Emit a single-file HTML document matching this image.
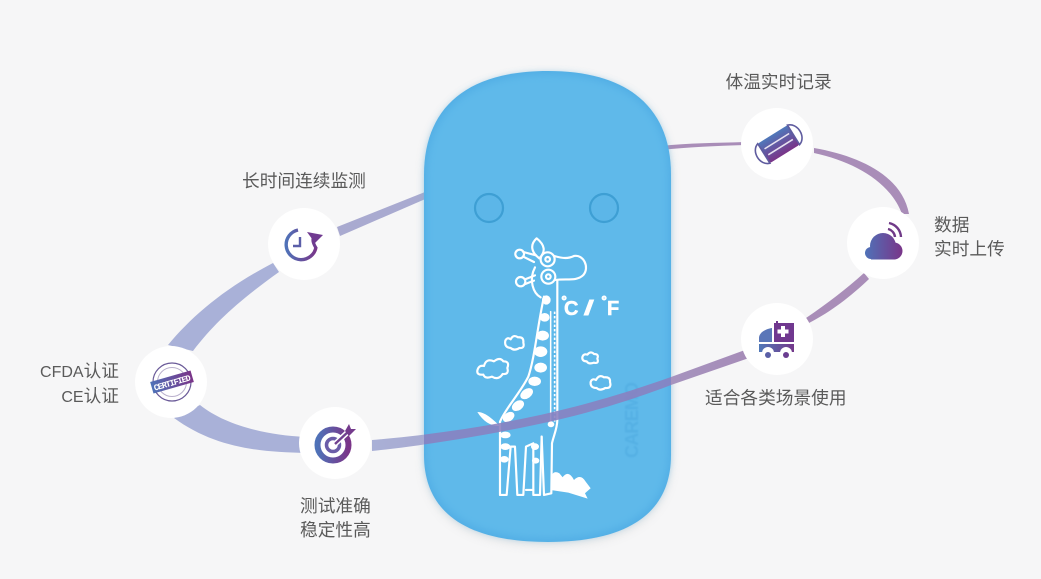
<!DOCTYPE html>
<html lang="zh"><head><meta charset="utf-8"><title>体温贴</title>
<style>
html,body{margin:0;padding:0;background:#f6f6f7}
svg{display:block}
.l{font-family:"Liberation Sans","Noto Sans CJK SC",sans-serif;font-size:17.7px;fill:#5a5a5a}
</style></head><body>
<svg width="1041" height="579" viewBox="0 0 1041 579" xmlns="http://www.w3.org/2000/svg">
<defs>
<linearGradient id="g" x1="0" y1="0" x2="1" y2="0"><stop offset="0" stop-color="#4f72b8"/><stop offset="1" stop-color="#7a3488"/></linearGradient>
<linearGradient id="mg" x1="0" y1="0" x2="0" y2="1"><stop offset="0" stop-color="#4f78ba"/><stop offset="1" stop-color="#7a3488"/></linearGradient>
<linearGradient id="cg" gradientUnits="userSpaceOnUse" x1="865" y1="0" x2="903" y2="0"><stop offset="0" stop-color="#4f72b8"/><stop offset="1" stop-color="#7a3488"/></linearGradient>
<linearGradient id="ag" gradientUnits="userSpaceOnUse" x1="759" y1="0" x2="794" y2="0"><stop offset="0" stop-color="#5078b8"/><stop offset="1" stop-color="#74388a"/></linearGradient>
<linearGradient id="cl" gradientUnits="userSpaceOnUse" x1="286" y1="0" x2="317" y2="0"><stop offset="0" stop-color="#4f72b8"/><stop offset="1" stop-color="#7a3488"/></linearGradient>
<linearGradient id="b" gradientUnits="userSpaceOnUse" x1="370" y1="0" x2="750" y2="0"><stop offset="0" stop-color="#a9b0d6"/><stop offset="1" stop-color="#a68cb8"/></linearGradient>
<filter id="s" x="-10%" y="-10%" width="120%" height="120%"><feGaussianBlur stdDeviation="5"/></filter>
<filter id="s2" x="-10%" y="-10%" width="120%" height="120%"><feGaussianBlur stdDeviation="4"/></filter>
<filter id="s3" x="-20%" y="-20%" width="140%" height="140%"><feGaussianBlur stdDeviation=".7"/></filter>
<clipPath id="out"><rect x="0" y="0" width="424" height="579"/><rect x="671" y="0" width="370" height="579"/></clipPath>
<clipPath id="in"><rect x="424" y="0" width="247" height="579"/></clipPath>
<path id="dev" d="M424 175 C424 110 464 71 548 71 C631 71 671 110 671 175 L671 455 C671 515 625 542 548 542 C470 542 424 515 424 455 Z"/>
<path id="front" d="M372 440 C420 436 490 427 553 412 C600 401 640 388 671 377 L745 350 L749 358 L671 385 C640 397 600 410 553 421 C490 435 420 446 372 451 Z"/>
</defs>
<rect width="1041" height="579" fill="#f6f6f7"/>

<!-- upper bands behind the device -->
<path d="M273 263 C225 288 193 315 168 345 L193 351 C215 322 240 300 279 272 Z" fill="#a9b1d8"/>
<path d="M337 227 L430 190 L430 197 L340 236 Z" fill="#a9aad0"/>
<path d="M660 146 C690 143 715 143 745 142 L745 145 C715 146 690 147 660 150 Z" fill="#a98db8"/>
<path d="M814 148 C860 156 902 176 909 214 L902 214 C890 182 855 162 814 153 Z" fill="#a98db8"/>
<path d="M864 273 C845 290 828 303 806 318 L809 323 C832 311 850 297 869 279 Z" fill="#a98db8"/>

<!-- device -->
<use href="#dev" fill="#999" opacity=".22" filter="url(#s)" transform="translate(0 3)"/>
<use href="#dev" fill="#52aee5"/>
<use href="#dev" fill="#5fb9ea" filter="url(#s2)" transform="translate(547.5 306.5) scale(.98 .985) translate(-547.5 -306.5)"/>
<circle cx="489" cy="208" r="14" fill="#5cb6e8" stroke="#3e9fd4" stroke-width="2.2"/>
<circle cx="604" cy="208" r="14" fill="#5cb6e8" stroke="#3e9fd4" stroke-width="2.2"/>
<text transform="translate(638 458) rotate(-90)" font-family="Liberation Sans,sans-serif" font-weight="bold" font-size="18" fill="#54b0e4" textLength="76" filter="url(#s3)">CAREMO</text>

<!-- giraffe, in 3x crop coordinates -->
<g transform="translate(420 180) scale(.3333)" fill="none" stroke="#fff" stroke-width="6.5" stroke-linejoin="round" stroke-linecap="round">
<path d="M350 175 C375 195 378 215 358 235 C335 218 328 195 350 175 Z"/>
<circle cx="299" cy="222" r="13"/><path d="M310 216 L348 226 M310 230 L342 246"/>
<circle cx="302" cy="305" r="14"/><path d="M315 298 L345 286 M316 312 L342 302"/>
<circle cx="383" cy="238" r="21"/><circle cx="383" cy="238" r="7"/>
<circle cx="385" cy="290" r="21"/><circle cx="385" cy="290" r="7"/>
<path d="M403 228 C430 236 445 236 462 228 C490 222 510 262 490 285 C470 305 440 295 405 300"/>
<path d="M345 262 C325 300 340 340 362 352"/>
<path d="M412 300 L412 720 C412 745 400 770 396 790 L394 940 L372 945 L365 770"/>
<path d="M392 395 L392 725" stroke-width="4.5"/>
<path d="M404 395 L404 725" stroke-width="5" stroke-dasharray="7 6" stroke-linecap="butt"/>
<path d="M372 350 C352 440 345 530 325 590 C300 640 260 680 240 725 L240 945 L260 945 L272 800 L285 800 L292 945 L310 945 L318 800 L340 790 L340 945 L360 945 L365 770"/>
<path d="M318 930 L340 930"/>
<g fill="#fff" stroke="none">
<ellipse cx="379" cy="360" rx="13" ry="14"/><ellipse cx="374" cy="412" rx="15" ry="13"/><ellipse cx="368" cy="467" rx="19" ry="15"/>
<ellipse cx="362" cy="515" rx="20" ry="16"/><ellipse cx="362" cy="563" rx="19" ry="15"/><ellipse cx="344" cy="604" rx="19" ry="14"/>
<ellipse cx="320" cy="641" rx="21" ry="14" transform="rotate(-35 320 641)"/><ellipse cx="294" cy="677" rx="20" ry="14" transform="rotate(-35 294 677)"/><ellipse cx="266" cy="711" rx="19" ry="13" transform="rotate(-35 266 711)"/>
<ellipse cx="256" cy="765" rx="16" ry="10"/><ellipse cx="256" cy="800" rx="15" ry="10"/><ellipse cx="253" cy="838" rx="13" ry="10"/><ellipse cx="345" cy="800" rx="12" ry="10"/><ellipse cx="347" cy="842" rx="11" ry="9"/><ellipse cx="393" cy="733" rx="10" ry="9"/>
<path d="M172 696 C195 696 215 715 240 738 C215 740 190 725 172 696 Z"/>
<path d="M392 895 Q398 868 418 880 L428 892 Q445 868 462 900 Q482 880 497 905 L512 925 L495 940 L503 956 L445 938 L392 930 Z"/>
</g>
<path d="M256 482 Q262 470 272 478 Q280 462 294 472 Q312 470 310 488 Q315 506 298 504 Q284 514 272 504 Q252 502 256 482 Z"/>
<path d="M172 572 Q176 554 192 558 Q198 534 222 544 Q240 530 250 544 Q270 544 262 564 Q268 584 248 582 Q236 602 216 590 Q196 598 190 584 Q170 586 172 572 Z"/>
<path d="M487 532 Q490 520 502 524 Q512 512 522 522 Q538 522 532 536 Q538 552 522 548 Q506 554 500 544 Q486 544 487 532 Z"/>
<path d="M512 606 Q516 594 528 600 Q538 582 552 592 Q572 590 570 606 Q576 626 556 624 Q540 634 530 624 Q510 624 512 606 Z"/>
</g>
<g font-family="Liberation Sans,sans-serif" font-weight="bold" fill="#fff" font-size="20">
<text x="564" y="315" stroke="#fff" stroke-width=".5">C</text><text transform="translate(583 315) scale(2 1)" font-size="21">/</text><text x="607" y="315" stroke="#fff" stroke-width=".5">F</text>
<text x="561.5" y="305" font-size="13" stroke="#fff" stroke-width="1">°</text><text x="601.5" y="305" font-size="13" stroke="#fff" stroke-width="1">°</text>
</g>

<!-- lower band: in front of the device -->
<path d="M174 418 C215 448 260 452 305 453 L305 437 C265 435 225 425 200 405 Z" fill="#a9b1d8"/>
<use href="#front" fill="url(#b)" clip-path="url(#out)"/>
<use href="#front" fill="#8a80bf" opacity=".88" clip-path="url(#in)"/>

<!-- nodes -->
<g fill="#fff">
<circle cx="304" cy="244" r="36"/><circle cx="171" cy="382" r="36"/><circle cx="335" cy="443" r="36"/>
<circle cx="777" cy="144" r="36"/><circle cx="883" cy="243" r="36"/><circle cx="777" cy="339" r="36"/>
</g>

<!-- clock -->
<path d="M298 230 A15 15 0 1 0 316 247" fill="none" stroke="url(#cl)" stroke-width="3.4"/>
<path d="M300 237 V246 H293" fill="none" stroke="#5b5ea8" stroke-width="2.4"/>
<path d="M316 248 C313 243 312 240 314 235" fill="none" stroke="#6f3c90" stroke-width="3.2"/>
<path d="M307 232 L323 235 L315 243 Z" fill="#703a90"/>

<!-- certified -->
<circle cx="172" cy="382" r="19" fill="none" stroke="#6a5a98" stroke-width="1.2"/>
<circle cx="172" cy="382" r="14.5" fill="none" stroke="#b9b0cc" stroke-width="1"/>
<g transform="rotate(-16 172 382)"><rect x="151" y="376" width="42" height="12" fill="url(#g)"/>
<text x="172" y="385.5" text-anchor="middle" font-family="Liberation Mono,monospace" font-weight="bold" font-size="8.5" fill="#fff" textLength="38" lengthAdjust="spacing">CERTIFIED</text></g>

<!-- target -->
<circle cx="333" cy="445" r="15.5" fill="none" stroke="url(#g)" stroke-width="6"/>
<circle cx="333" cy="445" r="6.5" fill="none" stroke="#6b5da8" stroke-width="3.5"/>
<path d="M335 444 L350 430" stroke="#fff" stroke-width="5.5"/>
<path d="M335 444 L350 430" stroke="#70408f" stroke-width="2.4"/>
<path d="M345 431 L349 424 L351 429 L356 429 L349 436 Z" fill="#743a8c"/>

<!-- mask -->
<g transform="rotate(-32 778 144)">
<rect x="761" y="133" width="35" height="23" rx="2" fill="url(#mg)"/>
<path d="M761 133 C751 136 751 153 761 156 Z M796 133 C806 136 806 153 796 156 Z" fill="#fff" stroke="#5f5c9f" stroke-width="1.6"/>
<path d="M764 141 H793 M764 148 H793" stroke="#e7e2f0" stroke-width="1.6"/>
</g>

<!-- cloud -->
<g fill="url(#cg)"><circle cx="871" cy="253" r="6"/><circle cx="883" cy="246" r="13"/><circle cx="894" cy="251" r="8.5"/><rect x="871" y="250" width="24" height="9.5"/></g>
<path d="M889 223 A15 15 0 0 1 901 237 M888 229 A9 9 0 0 1 895 237" fill="none" stroke="#703a88" stroke-width="2.4"/>

<!-- ambulance -->
<rect x="774" y="323" width="20" height="19" fill="#70388f"/>
<rect x="776" y="321" width="2" height="3" fill="#70388f"/>
<path d="M781 326 h4 v3.5 h3.5 v4 h-3.5 v3.5 h-4 v-3.5 h-3.5 v-4 h3.5 Z" fill="#fff"/>
<path d="M772 328 V342 H759 V338 C759 333 765 329 772 328 Z" fill="#5a76b8"/>
<rect x="759" y="344" width="35" height="8" fill="url(#ag)"/>
<circle cx="768" cy="353" r="6" fill="#fff"/><circle cx="786" cy="353" r="6" fill="#fff"/>
<circle cx="768" cy="355" r="3" fill="#5a5fa6"/><circle cx="786" cy="355" r="3" fill="#6a3d90"/>

<!-- labels -->
<text class="l" x="725.5" y="88">体温实时记录</text>
<text class="l" x="242" y="187">长时间连续监测</text>
<text class="l" x="934" y="231">数据</text>
<text class="l" x="934" y="255">实时上传</text>
<text class="l" x="705" y="404">适合各类场景使用</text>
<text class="l" x="119" y="377" text-anchor="end"><tspan font-size="16">CFDA</tspan>认证</text>
<text class="l" x="119" y="402" text-anchor="end"><tspan font-size="16">CE</tspan>认证</text>
<text class="l" x="300" y="512">测试准确</text>
<text class="l" x="300" y="536">稳定性高</text>
</svg>
</body></html>
